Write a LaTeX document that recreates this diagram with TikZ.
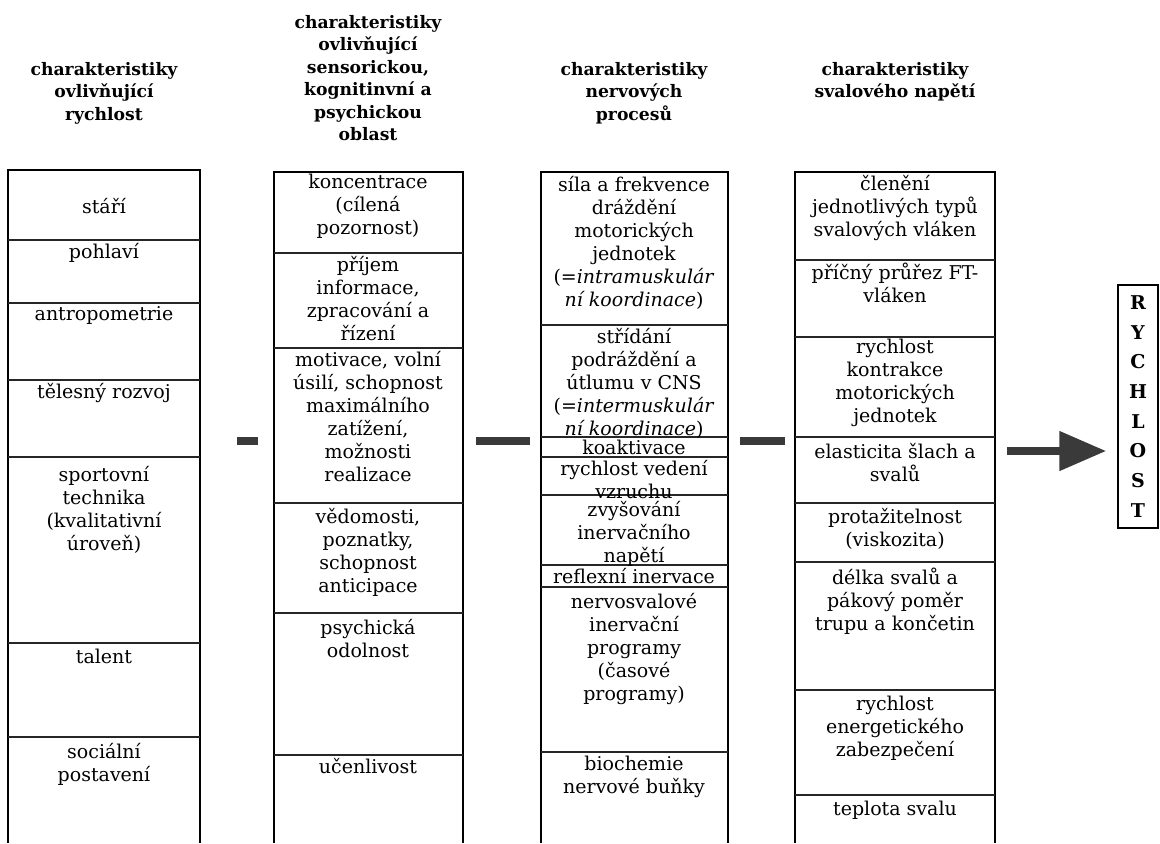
\documentclass[tikz,border=0pt]{standalone}
\usepackage{fontspec}
\setmainfont{DejaVu Serif}
\usetikzlibrary{arrows.meta}
\definecolor{barcol}{HTML}{3A3A3A}
\begin{document}
\begin{tikzpicture}[x=0.5pt,y=-0.5pt,
  colline/.style={line width=0.75pt, draw=black},
  divline/.style={line width=0.55pt, draw=black!85},
  cell/.style={anchor=north, inner sep=0pt, align=center,
    font=\fontsize{9.5}{11.5}\selectfont},
  head/.style={anchor=north, inner sep=0pt, align=center,
    font=\fontsize{8.6}{11.2}\selectfont\bfseries},
  bar/.style={line width=4pt, draw=barcol},
  bigarrow/.style={line width=4pt, draw=barcol,
    -{Triangle[length=23.5pt, width=19pt, fill=barcol]}},
  result/.style={draw, line width=0.75pt, minimum width=20pt,
    minimum height=121.5pt, inner sep=0pt, align=center,
    font=\fontsize{9.5}{14.85}\selectfont\bfseries}]
\useasboundingbox (0,0) rectangle (1160,843);

% ---------- column frames (open at the bottom) ----------
\draw[colline] (8,843) -- (8,170) -- (200,170) -- (200,843);
\draw[colline] (274,843) -- (274,172) -- (463,172) -- (463,843);
\draw[colline] (541,843) -- (541,172) -- (728,172) -- (728,843);
\draw[colline] (795,843) -- (795,172) -- (995,172) -- (995,843);

% ---------- row dividers ----------
\foreach \y in {240,303,380,457,643,737} \draw[divline] (8,\y) -- (200,\y);
\foreach \y in {253,348,503,613,755} \draw[divline] (274,\y) -- (463,\y);
\foreach \y in {325,437,457,495,565,587,752} \draw[divline] (541,\y) -- (728,\y);
\foreach \y in {260,337,437,503,562,690,795} \draw[divline] (795,\y) -- (995,\y);

% ---------- column headings ----------
\node[head] (h1) at (104,62) {charakteristiky\\ovlivňující\\rychlost};
\node[head] (h2) at (368,15) {charakteristiky\\ovlivňující\\sensorickou,\\kognitinvní a\\psychickou\\oblast};
\node[head] (h3) at (634,62) {charakteristiky\\nervových\\procesů};
\node[head] (h4) at (895,62) {charakteristiky\\svalového napětí};

% ---------- column 1 ----------
\node[cell] (a1) at (104,198) {stáří};
\node[cell] (a2) at (104,243) {pohlaví};
\node[cell] (a3) at (104,306) {antropometrie};
\node[cell] (a4) at (104,383) {tělesný rozvoj};
\node[cell] (a5) at (104,466) {sportovní\\technika\\(kvalitativní\\úroveň)};
\node[cell] (a6) at (104,649) {talent};
\node[cell] (a7) at (104,743) {sociální\\postavení};

% ---------- column 2 ----------
\node[cell] (b1) at (368,174) {koncentrace\\(cílená\\pozornost)};
\node[cell] (b2) at (368,256) {příjem\\informace,\\zpracování a\\řízení};
\node[cell] (b3) at (368,351) {motivace, volní\\úsilí, schopnost\\maximálního\\zatížení,\\možnosti\\realizace};
\node[cell] (b4) at (368,508) {vědomosti,\\poznatky,\\schopnost\\anticipace};
\node[cell] (b5) at (368,619) {psychická\\odolnost};
\node[cell] (b6) at (368,758) {učenlivost};

% ---------- column 3 ----------
\node[cell] (c1) at (634,176) {síla a frekvence\\dráždění\\motorických\\jednotek\\(=\textit{intramuskulár}\\\textit{ní koordinace})};
\node[cell] (c2) at (634,328) {střídání\\podráždění a\\útlumu v CNS\\(=\textit{intermuskulár}\\\textit{ní koordinace})};
\node[cell] (c3) at (634,440) {koaktivace};
\node[cell] (c4) at (634,460) {rychlost vedení\\vzruchu};
\node[cell] (c5) at (634,501) {zvyšování\\inervačního\\napětí};
\node[cell] (c6) at (634,568) {reflexní inervace};
\node[cell] (c7) at (634,593) {nervosvalové\\inervační\\programy\\(časové\\programy)};
\node[cell] (c8) at (634,756) {biochemie\\nervové buňky};

% ---------- column 4 ----------
\node[cell] (d1) at (895,175) {členění\\jednotlivých typů\\svalových vláken};
\node[cell] (d2) at (895,263) {příčný průřez FT-\\vláken};
\node[cell] (d3) at (895,339) {rychlost\\kontrakce\\motorických\\jednotek};
\node[cell] (d4) at (895,443) {elasticita šlach a\\svalů};
\node[cell] (d5) at (895,508) {protažitelnost\\(viskozita)};
\node[cell] (d6) at (895,568) {délka svalů a\\pákový poměr\\trupu a končetin};
\node[cell] (d7) at (895,696) {rychlost\\energetického\\zabezpečení};
\node[cell] (d8) at (895,801) {teplota svalu};

% ---------- result box ----------
\node[result] (ry) at (1138,406.5) {R\\Y\\C\\H\\L\\O\\S\\T};

% ---------- links between the columns ----------
\coordinate (p1a) at (237,441); \coordinate (p1b) at (258,441);
\coordinate (p2a) at (476,441); \coordinate (p2b) at (530,441);
\coordinate (p3a) at (740,441); \coordinate (p3b) at (785,441);
\coordinate (p4a) at (1007,451);
\draw[bar] (p1a) -- (p1b);
\draw[bar] (p2a) -- (p2b);
\draw[bar] (p3a) -- (p3b);
\draw[bigarrow, shorten >=5.5pt] (p4a) -- (p4a -| ry.west);
\end{tikzpicture}
\end{document}
